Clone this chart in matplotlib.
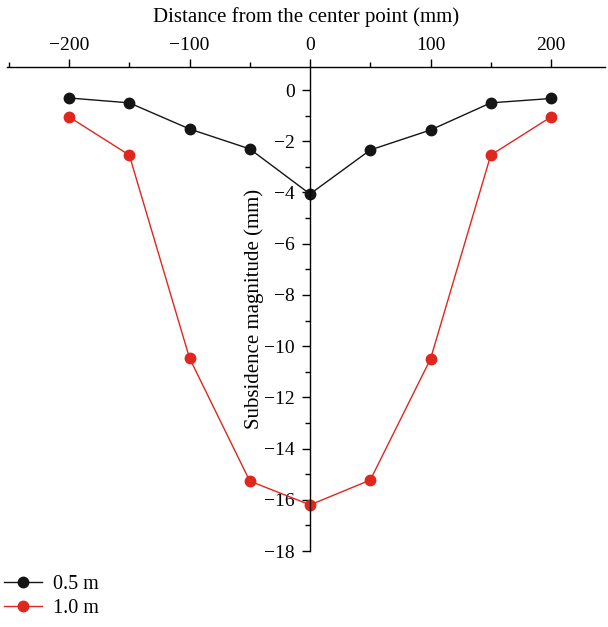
import matplotlib
matplotlib.use("Agg")
import matplotlib.pyplot as plt
from matplotlib.ticker import MultipleLocator

plt.rcParams['font.family'] = ['Liberation Serif', 'DejaVu Serif']

distance = [-200, -150, -100, -50, 0, 50, 100, 150, 200]
sub_05 = [-0.31, -0.50, -1.52, -2.30, -4.06, -2.34, -1.56, -0.50, -0.33]
sub_10 = [-1.05, -2.54, -10.47, -15.27, -16.20, -15.23, -10.50, -2.54, -1.05]
labels = ['0.5 m', '1.0 m']
colors = ['#151515', '#e0261f']

fig = plt.figure(figsize=(6.08, 6.27), dpi=100)
ax = fig.add_axes([7/608, (627-551)/627, 598/608, (551-67)/627])

for y, lab, c in zip([sub_05, sub_10], labels, colors):
    ax.plot(distance, y, '-o', color=c, lw=1.0, ms=7.5, label=lab)

ax.set_xlim(-251.5, 244.8)
ax.set_ylim(-18, 0.9)

ax.spines['bottom'].set_visible(False)
ax.spines['right'].set_visible(False)
ax.spines['left'].set_position(('data', 0))
ax.spines['left'].set_bounds(-18, 0.9)
for s in ['top', 'left']:
    ax.spines[s].set_linewidth(1.0)

ax.xaxis.tick_top()
ax.xaxis.set_label_position('top')
ax.xaxis.set_major_locator(MultipleLocator(100))
ax.xaxis.set_minor_locator(MultipleLocator(50))
ax.yaxis.set_major_locator(MultipleLocator(2))
ax.yaxis.set_minor_locator(MultipleLocator(1))
ax.tick_params(which='major', direction='out', length=6, width=1.0, labelsize=14)
ax.tick_params(which='minor', direction='out', length=3.5, width=1.0)
ax.tick_params(axis='x', which='both', top=True, bottom=False, pad=3)
ax.tick_params(axis='y', pad=5)

ax.set_xlabel('Distance from the center point (mm)', fontsize=15, labelpad=11.5)
ax.set_ylabel('Subsidence magnitude (mm)', fontsize=15)
ax.yaxis.set_label_coords((264-7)/598, 0.5)

fig.legend(loc='lower left', bbox_to_anchor=(-0.0016, 0.0064), frameon=False,
           fontsize=14.5, handlelength=1.9, handletextpad=0.55, labelspacing=0.25,
           borderaxespad=0.15, borderpad=0.1)

fig.savefig('out.png', dpi=100)
